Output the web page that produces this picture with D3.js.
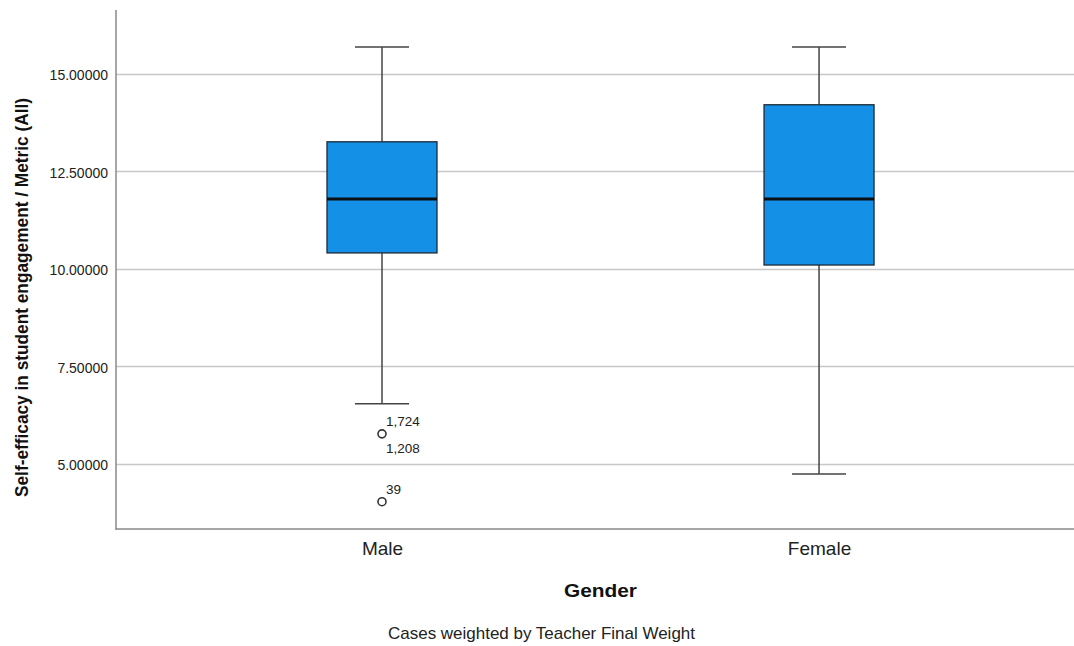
<!DOCTYPE html>
<html><head><meta charset="utf-8">
<script src="https://cdn.jsdelivr.net/npm/d3@7"></script>
<style>body{margin:0;background:#fff}svg{display:block;font-family:"Liberation Sans",Arial,sans-serif}</style>
</head><body><svg id="c" width="1074" height="646"></svg>
<script>
const categories = ["Male", "Female"];
const whiskerHigh = [15.69, 15.69];
const q3 = [13.26, 14.21];
const median = [11.79, 11.79];
const q1 = [10.41, 10.10];
const whiskerLow = [6.54, 4.74];
const outlierGroup = ["Male", "Male"];
const outlierValues = [5.77, 4.03];
const outlierLabelsAbove = ["1,724", "39"];
const outlierLabelsBelow = ["1,208", ""];
const yTicks = [5, 7.5, 10, 12.5, 15];

(function () {
const svg = d3.select("#c");
const mL = 116, mR = 1074, mT = 10, mB = 529;
const y = d3.scaleLinear().domain([3.33, 16.64]).range([mB, mT]);
const x = d3.scalePoint().domain(categories).range([mL, mR]).padding(0.596).align(0.5106);

svg.append("g").selectAll("line").data(yTicks).join("line")
  .attr("x1", mL).attr("x2", mR)
  .attr("y1", d => Math.round(y(d)) + 0.5).attr("y2", d => Math.round(y(d)) + 0.5)
  .attr("stroke", "#c8c8c8").attr("stroke-width", 1.5);

const yAxis = svg.append("g").attr("transform", `translate(${mL},0)`)
  .call(d3.axisLeft(y).tickValues(yTicks).tickSize(0).tickPadding(8).tickFormat(d3.format(".5f")));
yAxis.select(".domain").remove();
yAxis.selectAll("text").attr("font-size", 14).attr("fill", "#222").attr("font-family", "Liberation Sans, Arial").attr("dy", "0.4em");
svg.append("line").attr("x1", mL).attr("x2", mL).attr("y1", mT).attr("y2", mB + 1)
  .attr("stroke", "#888").attr("stroke-width", 1.5);

const xAxis = svg.append("g").attr("transform", `translate(0,${mB})`)
  .call(d3.axisBottom(x).tickSize(0).tickPadding(13));
xAxis.select(".domain").remove();
xAxis.selectAll("text").attr("font-size", 19).attr("fill", "#222").attr("font-family", "Liberation Sans, Arial");
svg.append("line").attr("x1", mL).attr("x2", mR).attr("y1", mB).attr("y2", mB)
  .attr("stroke", "#888").attr("stroke-width", 1.5);

const boxW = 110, capW = 54;
categories.forEach((c, i) => {
  const cx = x(c);
  const g = svg.append("g");
  g.append("line").attr("x1", cx).attr("x2", cx).attr("y1", y(whiskerHigh[i])).attr("y2", y(q3[i])).attr("stroke", "#444").attr("stroke-width", 1.5);
  g.append("line").attr("x1", cx).attr("x2", cx).attr("y1", y(q1[i])).attr("y2", y(whiskerLow[i])).attr("stroke", "#444").attr("stroke-width", 1.5);
  g.append("line").attr("x1", cx - capW / 2).attr("x2", cx + capW / 2).attr("y1", y(whiskerHigh[i])).attr("y2", y(whiskerHigh[i])).attr("stroke", "#444").attr("stroke-width", 1.5);
  g.append("line").attr("x1", cx - capW / 2).attr("x2", cx + capW / 2).attr("y1", y(whiskerLow[i])).attr("y2", y(whiskerLow[i])).attr("stroke", "#444").attr("stroke-width", 1.5);
  g.append("rect").attr("x", cx - boxW / 2).attr("y", y(q3[i])).attr("width", boxW).attr("height", y(q1[i]) - y(q3[i]))
    .attr("fill", "#1490E6").attr("stroke", "#1e2a36").attr("stroke-width", 1.3);
  g.append("line").attr("x1", cx - boxW / 2).attr("x2", cx + boxW / 2).attr("y1", y(median[i])).attr("y2", y(median[i]))
    .attr("stroke", "#0a0f14").attr("stroke-width", 3);
});

outlierValues.forEach((v, i) => {
  const cx = x(outlierGroup[i]);
  const cy = y(v);
  svg.append("circle").attr("cx", cx).attr("cy", cy).attr("r", 4).attr("fill", "#fff").attr("stroke", "#333").attr("stroke-width", 1.6);
  if (outlierLabelsAbove[i]) svg.append("text").attr("x", cx + 4).attr("y", cy - 8).attr("font-size", 13.5).attr("fill", "#222").text(outlierLabelsAbove[i]);
  if (outlierLabelsBelow[i]) svg.append("text").attr("x", cx + 4).attr("y", cy + 19).attr("font-size", 13.5).attr("fill", "#222").text(outlierLabelsBelow[i]);
});

svg.append("text").attr("x", 600.5).attr("y", 597).attr("text-anchor", "middle").attr("font-size", 19).attr("font-weight", "bold").attr("fill", "#111")
  .attr("textLength", 73).attr("lengthAdjust", "spacingAndGlyphs").text("Gender");
svg.append("text").attr("x", 541.5).attr("y", 639).attr("text-anchor", "middle").attr("font-size", 17).attr("fill", "#222")
  .attr("textLength", 307).attr("lengthAdjust", "spacingAndGlyphs").text("Cases weighted by Teacher Final Weight");
svg.append("text").attr("transform", "translate(28,297.5) rotate(-90)").attr("text-anchor", "middle")
  .attr("font-size", 18).attr("font-weight", "bold").attr("fill", "#111")
  .attr("textLength", 399).attr("lengthAdjust", "spacingAndGlyphs")
  .text("Self-efficacy in student engagement / Metric (All)");
})();
</script></body></html>
